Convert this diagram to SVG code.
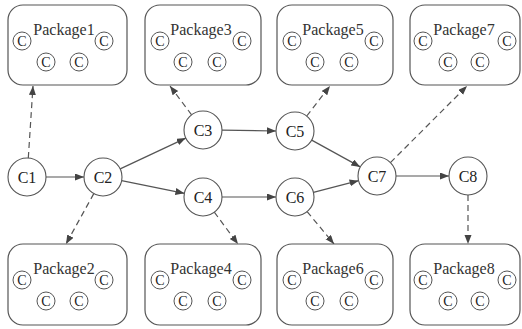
<svg xmlns="http://www.w3.org/2000/svg" width="522" height="329" viewBox="0 0 522 329">
  <style>
    .pkg { fill: #ffffff; stroke: #555555; stroke-width: 1.2; }
    .cls { fill: #ffffff; stroke: #555555; stroke-width: 1; }
    .cls-t { font-family: "Liberation Serif", "Times New Roman", serif; font-size: 14px; fill: #222222; text-anchor: middle; }
    .pkg-t { font-family: "Liberation Serif", "Times New Roman", serif; font-size: 16px; fill: #333333; text-anchor: middle; }
    .node { fill: #ffffff; stroke: #555555; stroke-width: 1.1; }
    .node-t { font-family: "Liberation Serif", "Times New Roman", serif; font-size: 16px; fill: #222222; text-anchor: middle; }
    .flow { stroke: #555555; stroke-width: 1.2; fill: none; marker-end: url(#head); }
    .dep { stroke: #555555; stroke-width: 1.2; fill: none; stroke-dasharray: 6 4; marker-end: url(#head); }
  </style>
  <defs>
    <marker id="head" markerUnits="userSpaceOnUse" markerWidth="10" markerHeight="8" refX="9" refY="3.5" orient="auto">
      <path d="M0,0 L9,3.5 L0,7 z" fill="#444444"/>
    </marker>
  </defs>

  <rect width="522" height="329" fill="#ffffff"/>

  <!-- connectors -->
  <g id="connectors">
    <line class="flow" x1="46" y1="177" x2="84" y2="177"/>
    <line class="flow" x1="120.2" y1="168.9" x2="185.8" y2="138.1"/>
    <line class="flow" x1="121.6" y1="180.7" x2="184.4" y2="193.3"/>
    <line class="flow" x1="222" y1="130.2" x2="276" y2="131"/>
    <line class="flow" x1="222" y1="197" x2="276" y2="197"/>
    <line class="flow" x1="311.7" y1="140.1" x2="360.3" y2="166.9"/>
    <line class="flow" x1="313.4" y1="192.3" x2="358.6" y2="180.7"/>
    <line class="flow" x1="396" y1="176" x2="449" y2="176"/>

    <line class="dep" x1="28.3" y1="158" x2="33" y2="86"/>
    <line class="dep" x1="93.8" y1="193.6" x2="66" y2="244"/>
    <line class="dep" x1="191.6" y1="114.8" x2="170" y2="86"/>
    <line class="dep" x1="214.3" y1="212.2" x2="238" y2="244"/>
    <line class="dep" x1="306.7" y1="116" x2="330" y2="86"/>
    <line class="dep" x1="307.1" y1="211.6" x2="334" y2="244"/>
    <line class="dep" x1="390.4" y1="162.6" x2="467" y2="86"/>
    <line class="dep" x1="468" y1="195" x2="468" y2="244"/>
  </g>

  <!-- packages: box, title, four class circles -->
  <g id="package1" transform="translate(8,5)">
    <rect class="pkg" x="0" y="0" width="119" height="80" rx="15"/>
    <text class="pkg-t" x="56" y="30">Package1</text>
    <circle class="cls" cx="14" cy="36" r="9"/><text class="cls-t" x="14" y="40.8">C</text>
    <circle class="cls" cx="96" cy="36" r="9"/><text class="cls-t" x="96" y="40.8">C</text>
    <circle class="cls" cx="38" cy="57" r="9"/><text class="cls-t" x="38" y="61.8">C</text>
    <circle class="cls" cx="71" cy="57" r="9"/><text class="cls-t" x="71" y="61.8">C</text>
  </g>
  <g id="package3" transform="translate(145,5)">
    <rect class="pkg" x="0" y="0" width="116" height="80" rx="15"/>
    <text class="pkg-t" x="56" y="30">Package3</text>
    <circle class="cls" cx="15" cy="36" r="9"/><text class="cls-t" x="15" y="40.8">C</text>
    <circle class="cls" cx="97" cy="36" r="9"/><text class="cls-t" x="97" y="40.8">C</text>
    <circle class="cls" cx="38" cy="57" r="9"/><text class="cls-t" x="38" y="61.8">C</text>
    <circle class="cls" cx="72" cy="57" r="9"/><text class="cls-t" x="72" y="61.8">C</text>
  </g>
  <g id="package5" transform="translate(277,5)">
    <rect class="pkg" x="0" y="0" width="116" height="80" rx="15"/>
    <text class="pkg-t" x="56" y="30">Package5</text>
    <circle class="cls" cx="15" cy="36" r="9"/><text class="cls-t" x="15" y="40.8">C</text>
    <circle class="cls" cx="97" cy="36" r="9"/><text class="cls-t" x="97" y="40.8">C</text>
    <circle class="cls" cx="38" cy="57" r="9"/><text class="cls-t" x="38" y="61.8">C</text>
    <circle class="cls" cx="72" cy="57" r="9"/><text class="cls-t" x="72" y="61.8">C</text>
  </g>
  <g id="package7" transform="translate(410,5)">
    <rect class="pkg" x="0" y="0" width="110" height="80" rx="15"/>
    <text class="pkg-t" x="54" y="30">Package7</text>
    <circle class="cls" cx="13" cy="36" r="9"/><text class="cls-t" x="13" y="40.8">C</text>
    <circle class="cls" cx="97" cy="36" r="9"/><text class="cls-t" x="97" y="40.8">C</text>
    <circle class="cls" cx="38" cy="57" r="9"/><text class="cls-t" x="38" y="61.8">C</text>
    <circle class="cls" cx="70" cy="57" r="9"/><text class="cls-t" x="70" y="61.8">C</text>
  </g>

  <g id="package2" transform="translate(8,244)">
    <rect class="pkg" x="0" y="0" width="119" height="81" rx="15"/>
    <text class="pkg-t" x="56" y="30">Package2</text>
    <circle class="cls" cx="14" cy="36" r="9"/><text class="cls-t" x="14" y="40.8">C</text>
    <circle class="cls" cx="96" cy="36" r="9"/><text class="cls-t" x="96" y="40.8">C</text>
    <circle class="cls" cx="38" cy="57" r="9"/><text class="cls-t" x="38" y="61.8">C</text>
    <circle class="cls" cx="71" cy="57" r="9"/><text class="cls-t" x="71" y="61.8">C</text>
  </g>
  <g id="package4" transform="translate(145,244)">
    <rect class="pkg" x="0" y="0" width="116" height="81" rx="15"/>
    <text class="pkg-t" x="56" y="30">Package4</text>
    <circle class="cls" cx="15" cy="36" r="9"/><text class="cls-t" x="15" y="40.8">C</text>
    <circle class="cls" cx="97" cy="36" r="9"/><text class="cls-t" x="97" y="40.8">C</text>
    <circle class="cls" cx="38" cy="57" r="9"/><text class="cls-t" x="38" y="61.8">C</text>
    <circle class="cls" cx="72" cy="57" r="9"/><text class="cls-t" x="72" y="61.8">C</text>
  </g>
  <g id="package6" transform="translate(277,244)">
    <rect class="pkg" x="0" y="0" width="116" height="81" rx="15"/>
    <text class="pkg-t" x="56" y="30">Package6</text>
    <circle class="cls" cx="15" cy="36" r="9"/><text class="cls-t" x="15" y="40.8">C</text>
    <circle class="cls" cx="97" cy="36" r="9"/><text class="cls-t" x="97" y="40.8">C</text>
    <circle class="cls" cx="38" cy="57" r="9"/><text class="cls-t" x="38" y="61.8">C</text>
    <circle class="cls" cx="72" cy="57" r="9"/><text class="cls-t" x="72" y="61.8">C</text>
  </g>
  <g id="package8" transform="translate(410,244)">
    <rect class="pkg" x="0" y="0" width="110" height="81" rx="15"/>
    <text class="pkg-t" x="54" y="30">Package8</text>
    <circle class="cls" cx="13" cy="36" r="9"/><text class="cls-t" x="13" y="40.8">C</text>
    <circle class="cls" cx="97" cy="36" r="9"/><text class="cls-t" x="97" y="40.8">C</text>
    <circle class="cls" cx="38" cy="57" r="9"/><text class="cls-t" x="38" y="61.8">C</text>
    <circle class="cls" cx="70" cy="57" r="9"/><text class="cls-t" x="70" y="61.8">C</text>
  </g>

  <!-- component nodes -->
  <g id="C1"><circle class="node" cx="27" cy="177" r="19"/><text class="node-t" x="27" y="182.5">C1</text></g>
  <g id="C2"><circle class="node" cx="103" cy="177" r="19"/><text class="node-t" x="103" y="182.5">C2</text></g>
  <g id="C3"><circle class="node" cx="203" cy="130" r="19"/><text class="node-t" x="203" y="135.5">C3</text></g>
  <g id="C4"><circle class="node" cx="203" cy="197" r="19"/><text class="node-t" x="203" y="202.5">C4</text></g>
  <g id="C5"><circle class="node" cx="295" cy="131" r="19"/><text class="node-t" x="295" y="136.5">C5</text></g>
  <g id="C6"><circle class="node" cx="295" cy="197" r="19"/><text class="node-t" x="295" y="202.5">C6</text></g>
  <g id="C7"><circle class="node" cx="377" cy="176" r="19"/><text class="node-t" x="377" y="181.5">C7</text></g>
  <g id="C8"><circle class="node" cx="468" cy="176" r="19"/><text class="node-t" x="468" y="181.5">C8</text></g>
</svg>
